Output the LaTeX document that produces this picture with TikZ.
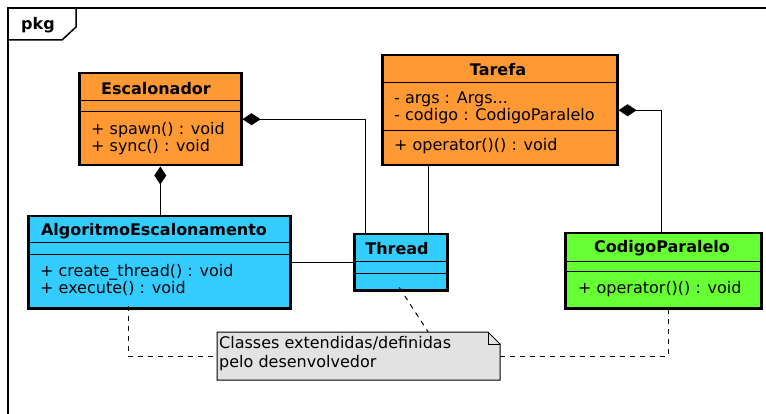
\documentclass[tikz,border=0pt]{standalone}
\usepackage{fontspec}
\setmainfont{DejaVu Sans}
\usetikzlibrary{arrows.meta,calc}
\definecolor{orangec}{HTML}{FF9933}
\definecolor{bluec}{HTML}{33CCFF}
\definecolor{greenc}{HTML}{66FF33}
\definecolor{notec}{HTML}{E2E2E2}
\begin{document}
\begin{tikzpicture}[x=1pt,y=-1pt,
  cls/.style={draw=black,line width=2.5pt,inner sep=0pt,anchor=north west},
  sep/.style={line width=1pt},
  title/.style={font=\fontsize{16}{18}\selectfont\bfseries,inner sep=0pt},
  mem/.style={font=\fontsize{16}{17}\selectfont,inner sep=0pt,anchor=west,align=left},
  conn/.style={line width=1pt},
  dsh/.style={line width=1pt,dash pattern=on 5pt off 5pt},
  comp/.style={conn,{Diamond[length=18pt,width=12pt]}-}
]
\useasboundingbox (0,0) rectangle (766,414);
% package frame
\draw[line width=1.5pt] (8,414) -- (8,8) -- (766,8);
\draw[line width=1.5pt] (8,40) -- (62,40) -- (76,27) -- (76,8);
\node[title] (pkg) at (38,25) {pkg};

% Escalonador
\node[cls,fill=orangec,minimum width=162pt,minimum height=92pt] (esc) at (78,72) {};
\draw[sep] (78,101) -- (240,101);
\draw[sep] (78,112) -- (240,112);
\node[title] (esct) at (156,89) {Escalonador};
\node[mem] (escm) at (91,138.5) {+ spawn() : void\\+ sync() : void};

% Tarefa
\node[cls,fill=orangec,minimum width=235pt,minimum height=110pt] (tar) at (381,54) {};
\draw[sep] (381,83) -- (616,83);
\draw[sep] (381,131) -- (616,131);
\node[title] (tart) at (498,70) {Tarefa};
\node[mem] (tara) at (394,107.5) {- args : Args...\\- codigo : CodigoParalelo};
\node[mem] (tarm) at (394,146) {+ operator()() : void};

% AlgoritmoEscalonamento
\node[cls,fill=bluec,minimum width=262pt,minimum height=92pt] (alg) at (27,215) {};
\draw[sep] (27,243) -- (289,243);
\draw[sep] (27,255) -- (289,255);
\node[title] (algt) at (154,231) {AlgoritmoEscalonamento};
\node[mem] (algm) at (40,279.5) {+ create\_thread() : void\\+ execute() : void};

% Thread
\node[cls,fill=bluec,minimum width=93pt,minimum height=56pt] (thr) at (353,233) {};
\draw[sep] (353,262) -- (446,262);
\draw[sep] (353,274) -- (446,274);
\node[title] (thrt) at (397,249) {Thread};

% CodigoParalelo
\node[cls,fill=greenc,minimum width=196pt,minimum height=75pt] (cod) at (564,232) {};
\draw[sep] (564,262) -- (760,262);
\draw[sep] (564,272) -- (760,272);
\node[title] (codt) at (662,248) {CodigoParalelo};
\node[mem] (codm) at (578,289) {+ operator()() : void};

% Note
\node[inner sep=0pt,minimum width=283pt,minimum height=48pt,anchor=north west] (note) at (217,332) {};
\draw[line width=1pt,fill=notec] (217,332) -- (488,332) -- (500,344) -- (500,380) -- (217,380) -- cycle;
\draw[line width=1pt] (488,332) -- (488,344) -- (500,344);
\node[mem,font=\fontsize{16}{19}\selectfont] (notet) at (219,354) {Classes extendidas/definidas\\pelo desenvolvedor};

% connectors
\draw[comp] (esc.east) -| ([xshift=-35.5pt]thr.north);
\draw[comp] (esc.south) -- (esc.south |- alg.north);
\draw[comp] (tar.east) -| ([xshift=-2pt]cod.north);
\draw[conn] ([xshift=-71.5pt]tar.south) -- ([xshift=27.5pt]thr.north);
\draw[conn] (alg.east) -- (thr.west);
\draw[dsh] ([xshift=-31pt,yshift=4pt]alg.south) |- (note.west);
\draw[dsh] (note.east) -| ([xshift=5pt,yshift=4pt]cod.south);
\draw[dsh] ([xshift=-1.5pt,yshift=4pt]thr.south) -- ([xshift=69.5pt]note.north);
\end{tikzpicture}
\end{document}
